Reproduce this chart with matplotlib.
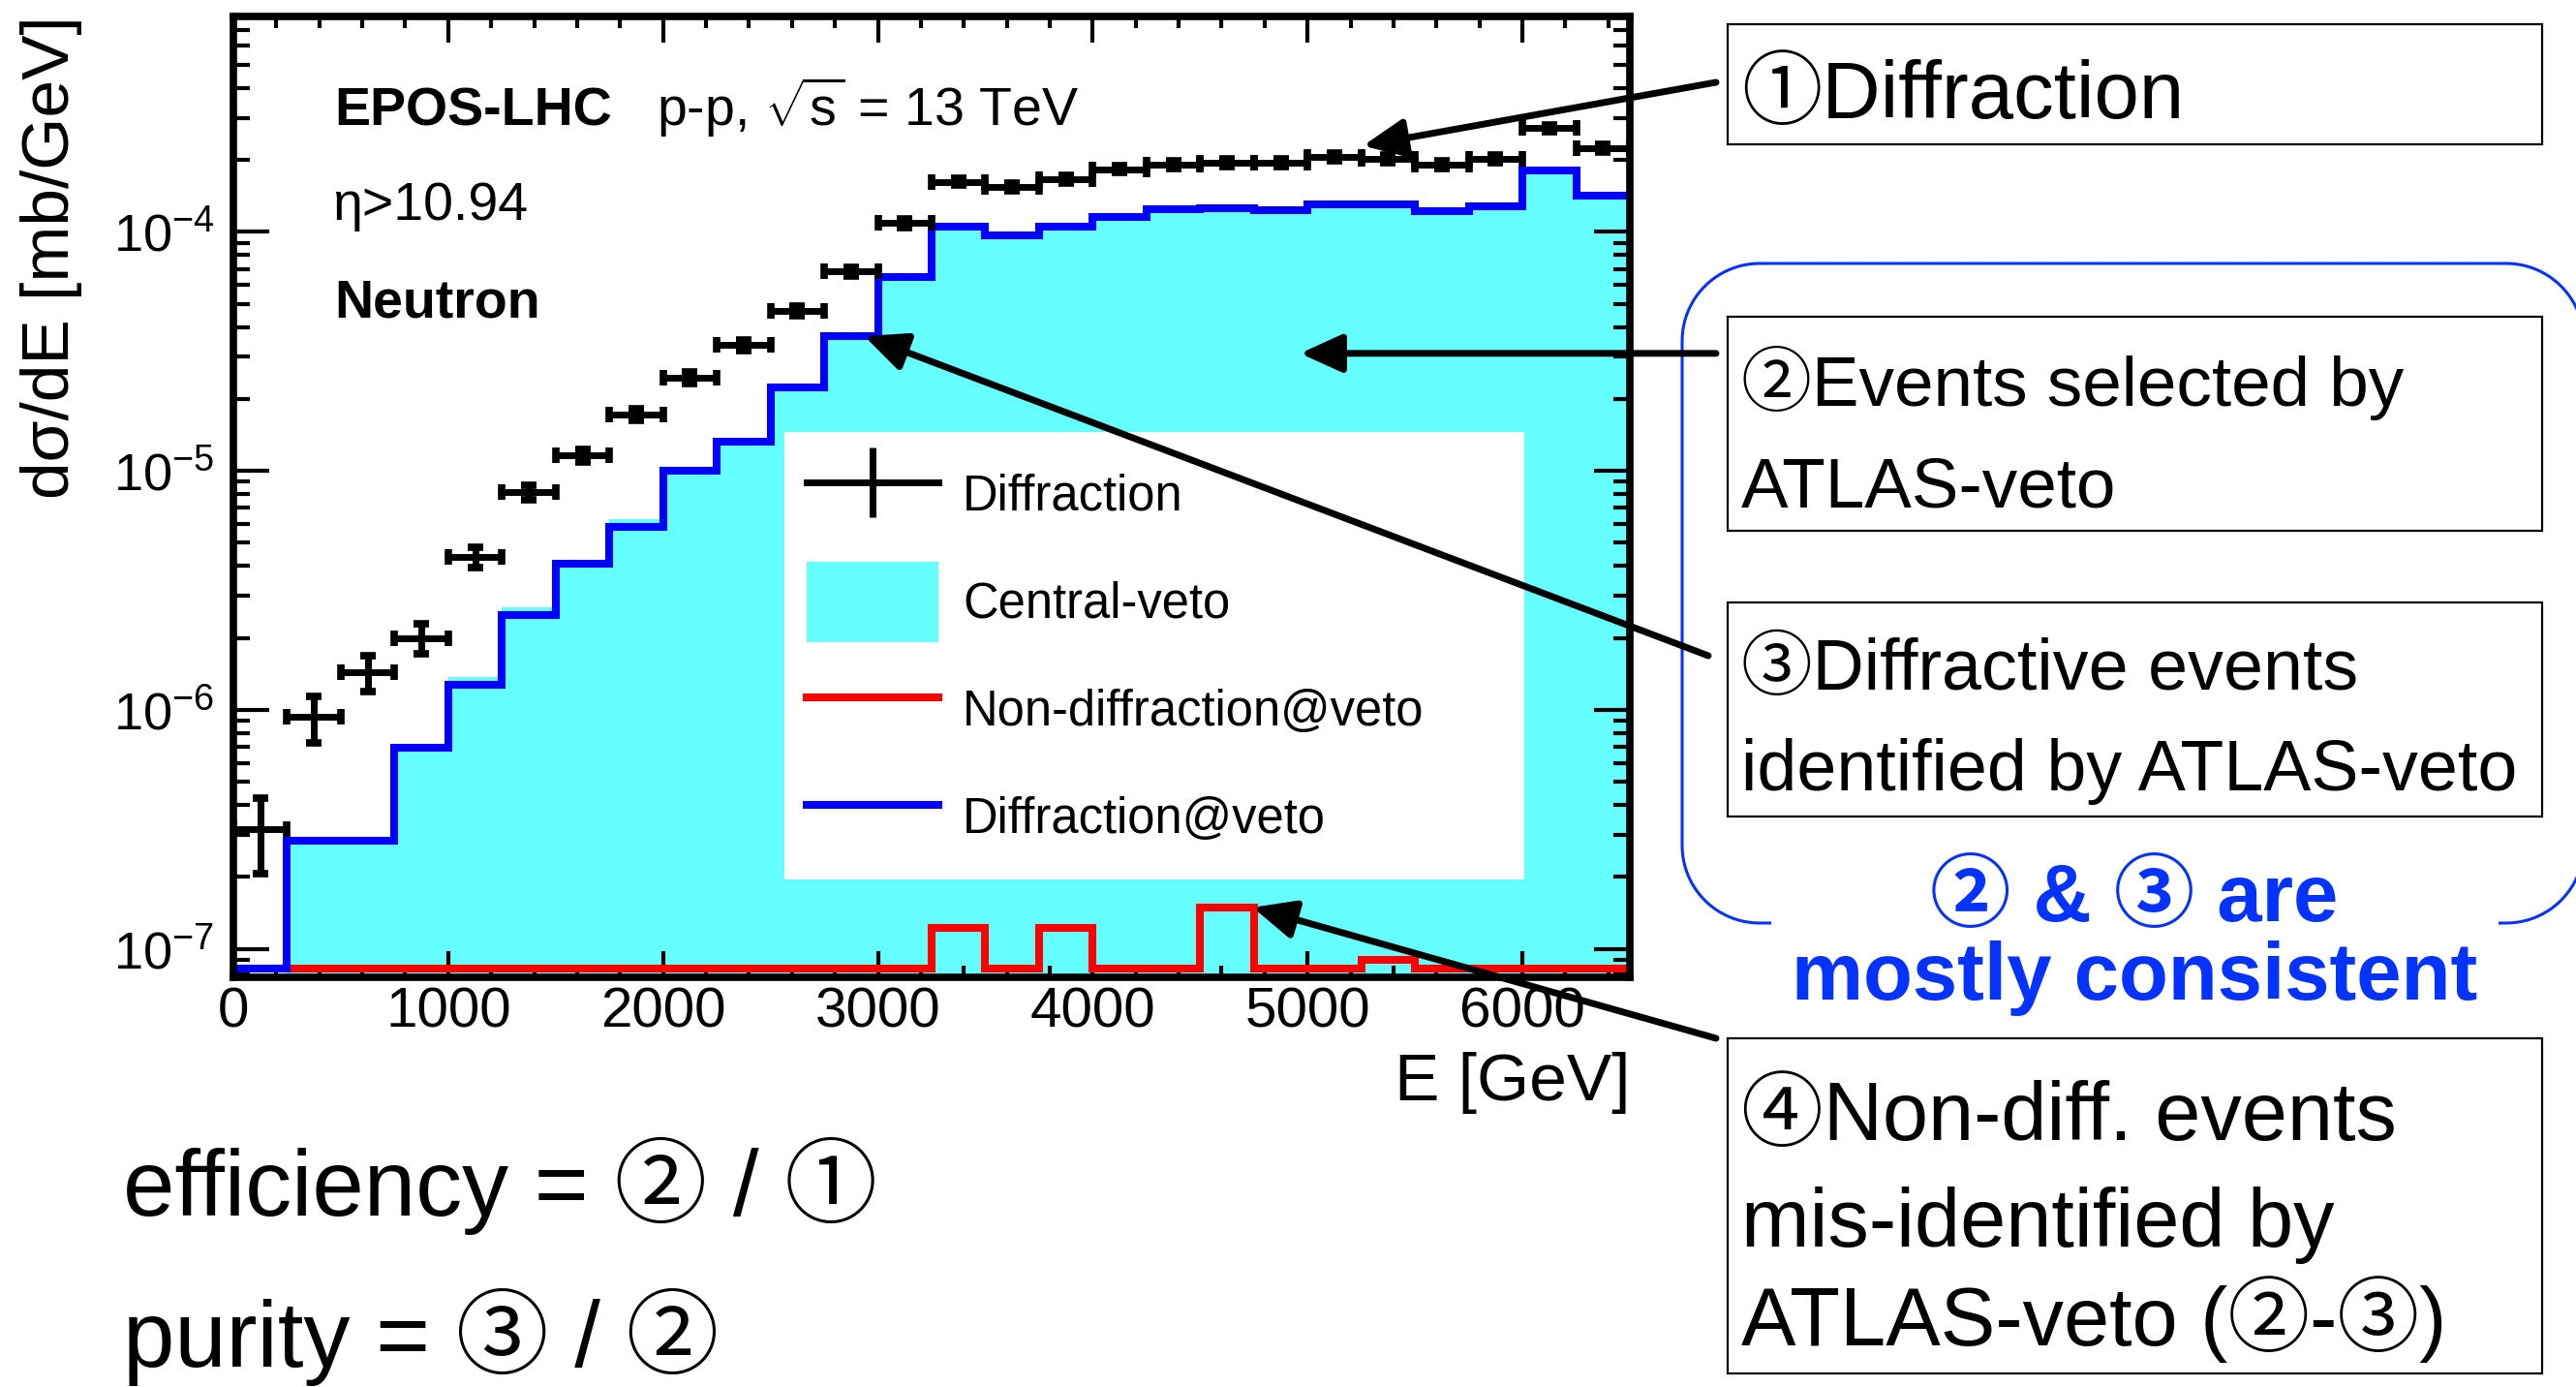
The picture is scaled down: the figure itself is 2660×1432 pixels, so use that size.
import numpy as np
import matplotlib
matplotlib.use("Agg")
import matplotlib.pyplot as plt
from matplotlib.patches import Rectangle, PathPatch, ConnectionPatch, Patch
from matplotlib.path import Path
from matplotlib.lines import Line2D
from matplotlib.ticker import MultipleLocator, LogLocator, NullFormatter
from matplotlib.transforms import blended_transform_factory

plt.rcParams["font.family"] = ["Liberation Sans", "Noto Sans CJK JP", "DejaVu Sans"]
plt.rcParams["mathtext.fontset"] = "custom"
plt.rcParams["mathtext.rm"] = "Liberation Sans"
plt.rcParams["mathtext.it"] = "Liberation Sans:italic"
plt.rcParams["mathtext.bf"] = "Liberation Sans:bold"

# ---------------- data: neutron energy spectra, EPOS-LHC, eta > 10.94 ----------------
energy_edges = [0, 250, 500, 750, 1000, 1250, 1500, 1750, 2000, 2250, 2500, 2750, 3000,
                3250, 3500, 3750, 4000, 4250, 4500, 4750, 5000, 5250, 5500, 5750, 6000,
                6250, 6500]

# all diffractive events [mb/GeV]
diffraction = [3.16e-7, 9.33e-7, 1.44e-6, 2.0e-6, 4.36e-6, 8.13e-6, 1.16e-5, 1.72e-5,
               2.45e-5, 3.36e-5, 4.67e-5, 6.83e-5, 1.087e-4, 1.62e-4, 1.54e-4, 1.66e-4,
               1.83e-4, 1.91e-4, 1.95e-4, 1.95e-4, 2.06e-4, 2.02e-4, 1.91e-4, 2.02e-4,
               2.72e-4, 2.24e-4]
diffraction_err = [1.1e-7, 2.05e-7, 2.5e-7, 2.9e-7, 4.2e-7, 5.9e-7, 7.4e-7, 9.6e-7,
                   1.4e-6, 1.7e-6, 2.2e-6, 3.0e-6, 4.3e-6, 5.7e-6, 5.4e-6, 5.8e-6,
                   6.3e-6, 6.6e-6, 6.7e-6, 6.7e-6, 7.0e-6, 6.9e-6, 6.6e-6, 6.9e-6,
                   8.5e-6, 7.6e-6]

# events passing the central veto
central_veto = [0.0, 2.82e-7, 2.82e-7, 6.92e-7, 1.37e-6, 2.68e-6, 4.09e-6, 6.3e-6,
                1.0e-5, 1.32e-5, 2.23e-5, 3.65e-5, 6.45e-5, 1.055e-4, 9.66e-5, 1.05e-4,
                1.15e-4, 1.24e-4, 1.25e-4, 1.23e-4, 1.30e-4, 1.30e-4, 1.22e-4, 1.28e-4,
                1.80e-4, 1.42e-4]

# non-diffractive events passing the veto
nondiff_veto = [0.0, 0.0, 0.0, 0.0, 0.0, 0.0, 0.0, 0.0, 0.0, 0.0, 0.0, 0.0, 0.0,
                1.22e-7, 0.0, 1.22e-7, 0.0, 0.0, 1.49e-7, 0.0, 0.0, 9.0e-8, 0.0, 0.0,
                0.0, 0.0]

# diffractive events passing the veto
diff_veto = [0.0, 2.82e-7, 2.82e-7, 6.92e-7, 1.27e-6, 2.49e-6, 4.09e-6, 5.83e-6,
             1.0e-5, 1.32e-5, 2.23e-5, 3.65e-5, 6.45e-5, 1.055e-4, 9.66e-5, 1.05e-4,
             1.15e-4, 1.24e-4, 1.25e-4, 1.23e-4, 1.30e-4, 1.30e-4, 1.22e-4, 1.28e-4,
             1.80e-4, 1.42e-4]

legend_labels = ["Diffraction", "Central-veto", "Non-diffraction@veto", "Diffraction@veto"]

# ---------------- figure layout (pixel helpers) ----------------
W, H, DPI = 2660, 1432, 100
fig = plt.figure(figsize=(W / DPI, H / DPI), dpi=DPI)
fig.patch.set_facecolor("white")


def fx(px):
    return px / W


def fy(py):
    return 1.0 - py / H


ax = fig.add_axes([fx(241), fy(1009), fx(1683) - fx(241), fy(16.5) - fy(1009)])

YMIN, YMAX = 7.6e-8, 8.0e-4
FLOOR = 8.3e-8          # empty bins are drawn along the bottom of the frame

CYAN = "#66FFFF"
BLUE = "#0000FF"
RED = "#FF0000"
NOTE_BLUE = "#0433FF"

edges = np.array(energy_edges, dtype=float)
centers = 0.5 * (edges[:-1] + edges[1:])
half_width = 0.5 * np.diff(edges)

cv = np.array(central_veto)
cv_draw = np.where(cv > 0, cv, YMIN * 1e-3)
ax.stairs(cv_draw, edges, baseline=YMIN * 1e-3, fill=True, color=CYAN, lw=0, zorder=1)

red = ax.stairs(np.maximum(nondiff_veto, FLOOR), edges, baseline=None,
                color=RED, lw=5.8, zorder=2)
blue = ax.stairs(np.maximum(diff_veto, FLOOR), edges, baseline=None,
                 color=BLUE, lw=5.8, zorder=3)
for st in (red, blue):
    st.set_joinstyle("miter")
    st.set_capstyle("butt")

ax.errorbar(centers, diffraction, xerr=half_width, yerr=diffraction_err, fmt="none",
            ecolor="black", elinewidth=5, capsize=6, capthick=5.5, zorder=4)

ax.set_xlim(0, 6500)
ax.set_yscale("log")
ax.set_ylim(YMIN, YMAX)

ax.xaxis.set_major_locator(MultipleLocator(1000))
ax.xaxis.set_minor_locator(MultipleLocator(200))
ax.yaxis.set_major_locator(LogLocator(base=10, numticks=20))
ax.yaxis.set_minor_locator(LogLocator(base=10, subs=np.arange(2, 10), numticks=20))
ax.yaxis.set_minor_formatter(NullFormatter())

ax.tick_params(which="both", direction="in", top=True, right=True, color="black")
ax.tick_params(axis="x", which="major", length=19.5, width=3, labelsize=42, pad=7)
ax.tick_params(axis="x", which="minor", length=8.6, width=3)
ax.tick_params(axis="y", which="major", length=26.6, width=3, labelsize=39, pad=14)
ax.tick_params(axis="y", which="minor", length=12, width=3)
for sp in ax.spines.values():
    sp.set_linewidth(5.5)
    sp.set_zorder(6)

ax.set_ylabel("dσ/dE [mb/GeV]", fontsize=50, loc="top")
ax.yaxis.set_label_coords(-0.108, 1.0)
ax.set_xlabel("E [GeV]", fontsize=50, loc="right")
ax.xaxis.set_label_coords(1.0, -0.078)

# ---------------- legend ----------------
h_diff = Line2D([], [], color="black", lw=5, marker="|", markersize=52, markeredgewidth=5)
h_cent = Patch(facecolor=CYAN, edgecolor="none")
h_nd = Line2D([], [], color=RED, lw=5.8)
h_dv = Line2D([], [], color=BLUE, lw=5.8)
leg = ax.legend([h_diff, h_cent, h_nd, h_dv], legend_labels,
                loc="upper left", bbox_to_anchor=(0.3946, 0.1108, 0.5298, 0.4565),
                mode="expand", borderaxespad=0, fontsize=36.5, frameon=True,
                fancybox=False, edgecolor="none", facecolor="white", framealpha=1,
                handlelength=2.68, handleheight=2.15, handletextpad=0.5,
                labelspacing=0.55, borderpad=0.45, numpoints=1)
leg.set_zorder(5)

# ---------------- labels inside the frame ----------------
fig.text(fx(345), fy(130), "EPOS-LHC", fontsize=40, fontweight="bold", va="baseline")
fig.text(fx(678), fy(130), r"p-p, $\sqrt{\mathrm{s}}$ = 13 TeV", fontsize=40, va="baseline")
fig.text(fx(343), fy(227), "η>10.94", fontsize=40, va="baseline")
fig.text(fx(345), fy(328), "Neutron", fontsize=40, fontweight="bold", va="baseline")

# ---------------- explanation boxes ----------------
def frame_box(x0, y0, x1, y1):
    fig.add_artist(Rectangle((fx(x0), fy(y1)), fx(x1) - fx(x0), fy(y0) - fy(y1),
                             transform=fig.transFigure, fill=False,
                             edgecolor="black", lw=1.6))


frame_box(1784, 25, 2625, 149)
frame_box(1784, 327, 2625, 548)
frame_box(1784, 622, 2625, 843)
frame_box(1784, 1072, 2625, 1418)

fig.text(fx(1798), fy(122), "①Diffraction", fontsize=60, va="baseline")
fig.text(fx(1798), fy(419), "②Events selected by", fontsize=52.5, va="baseline")
fig.text(fx(1798), fy(524), "ATLAS-veto", fontsize=52.5, va="baseline")
fig.text(fx(1798), fy(712), "③Diffractive events", fontsize=53, va="baseline")
fig.text(fx(1798), fy(816), "identified by ATLAS-veto", fontsize=53, va="baseline")
fig.text(fx(1798), fy(1177), "④Non-diff. events", fontsize=61, va="baseline")
fig.text(fx(1798), fy(1287), "mis-identified by", fontsize=61, va="baseline")
fig.text(fx(1798), fy(1389), "ATLAS-veto (②-③)", fontsize=61, va="baseline")

fig.text(fx(127), fy(1255), "efficiency = ② / ①", fontsize=69, va="baseline")
fig.text(fx(127), fy(1411), "purity = ③ / ②", fontsize=69, va="baseline")

# rounded blue bracket around boxes 2 and 3, open at the bottom for its caption
left, right, top, bottom, r = 1737, 2668, 272, 953, 80
gap_left, gap_right = 1829, 2580


def arc(cx, cy, a0, a1, n=24):
    t = np.radians(np.linspace(a0, a1, n))
    return [(cx + r * np.cos(t_), cy - r * np.sin(t_)) for t_ in t]


pts = [(gap_right, bottom), (right - r, bottom)]
pts += arc(right - r, bottom - r, -90, 0)
pts += [(right, top + r)]
pts += arc(right - r, top + r, 0, 90)
pts += [(left + r, top)]
pts += arc(left + r, top + r, 90, 180)
pts += [(left, bottom - r)]
pts += arc(left + r, bottom - r, 180, 270)
pts += [(gap_left, bottom)]
verts = [(fx(px), fy(py)) for px, py in pts]
fig.add_artist(PathPatch(Path(verts), transform=fig.transFigure, fill=False,
                         edgecolor=NOTE_BLUE, lw=2.2))

fig.text(fx(2204), fy(951), "② & ③ are", fontsize=60, fontweight="bold",
         color=NOTE_BLUE, ha="center", va="baseline")
fig.text(fx(2204), fy(1032), "mostly consistent", fontsize=60, fontweight="bold",
         color=NOTE_BLUE, ha="center", va="baseline")

# ---------------- arrows from the boxes into the plot ----------------
arrow_style = "-|>,head_length=0.44,head_width=0.2"
tail_y_data = blended_transform_factory(fig.transFigure, ax.transData)
arrows = [
    ((fx(1772), fy(85)), fig.transFigure, (5258, 2.29e-4)),
    ((fx(1772), 3.1e-5), tail_y_data, (4965, 3.1e-5)),
    ((fx(1764), fy(677)), fig.transFigure, (2937, 3.66e-5)),
    ((fx(1772), fy(1072)), fig.transFigure, (4745, 1.49e-7)),
]
for tail, tail_tr, head in arrows:
    cp = ConnectionPatch(xyA=tail, coordsA=tail_tr, xyB=head, coordsB=ax.transData,
                         arrowstyle=arrow_style, mutation_scale=60, lw=5,
                         color="black", shrinkA=0, shrinkB=0, zorder=10)
    fig.add_artist(cp)

fig.savefig("out.png", dpi=DPI)
